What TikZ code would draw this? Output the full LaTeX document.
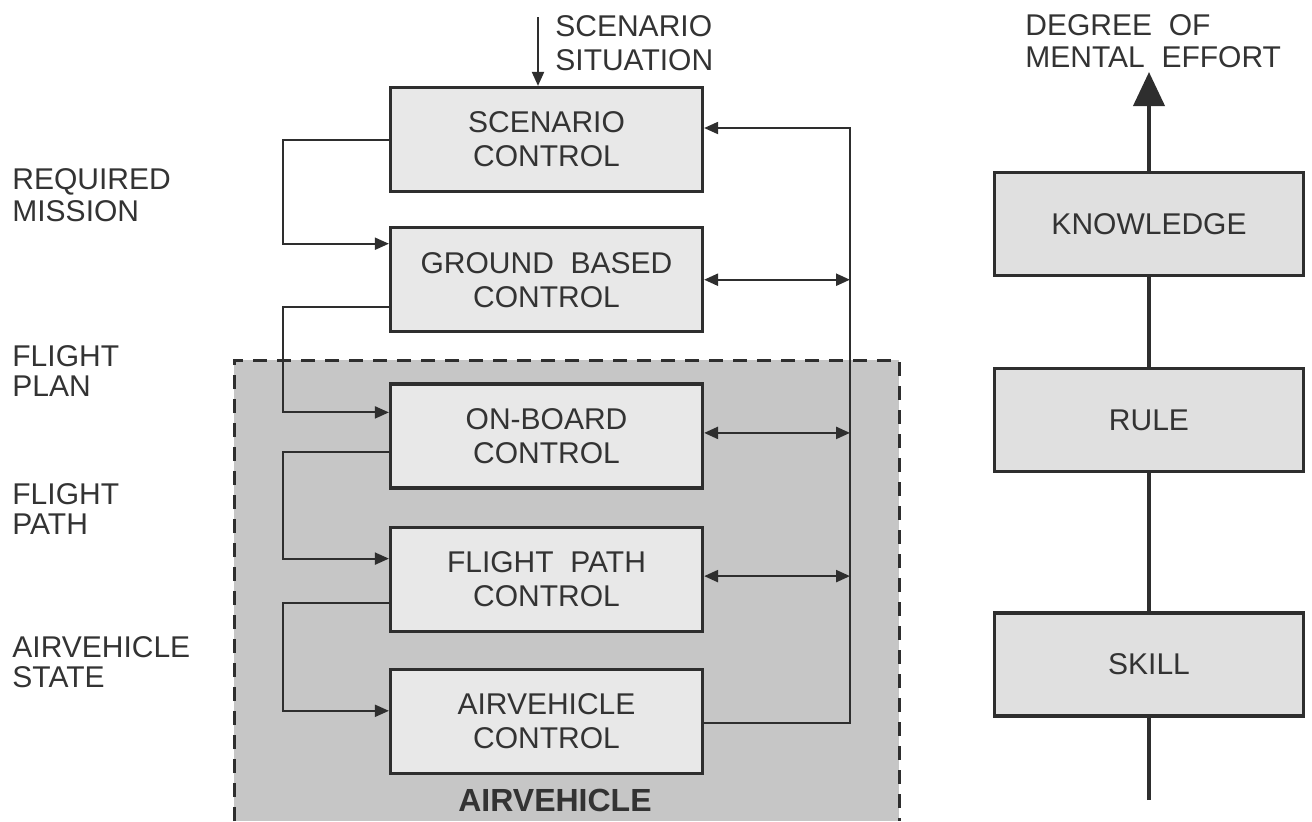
\documentclass[tikz,border=0pt]{standalone}
\usepackage{fontspec}
\setmainfont{Liberation Sans}
\usepackage{tikz}
\usetikzlibrary{arrows.meta, positioning, backgrounds}
\definecolor{inkgray}{HTML}{2E2E2E}
\definecolor{textgray}{HTML}{333333}
\definecolor{boxfill}{HTML}{E8E8E8}
\definecolor{levelfill}{HTML}{E0E0E0}
\definecolor{zonefill}{HTML}{C6C6C6}
\tikzset{
  % Control loop boxes
  ctrlbox/.style={
    rectangle, minimum width=156pt, minimum height=52pt,
    draw=inkgray, fill=boxfill, text=textgray, line width=1.6pt,
    font=\fontsize{15}{17}\selectfont, align=center, inner sep=0pt,
  },
  % Effort level boxes
  levelbox/.style={
    ctrlbox, fill=levelfill, minimum width=154.5pt, minimum height=51.5pt,
  },
  % Side labels (anchored at the baseline of the last line)
  sidelabel/.style={
    font=\fontsize{15}{16}\selectfont, align=left, anchor=base west,
    inner sep=0pt, text=textgray,
  },
  % Arrows
  myarrow/.style={-{Triangle[length=7pt, width=6pt]}, line width=1pt, draw=inkgray},
  biarrow/.style={{Triangle[length=7pt, width=6pt]}-{Triangle[length=7pt, width=6pt]},
    line width=1.2pt, draw=inkgray},
  effortarrow/.style={-{Triangle[length=17pt, width=15.5pt]}, line width=2pt, draw=inkgray},
  axisline/.style={line width=2pt, draw=inkgray},
}

\begin{document}
\begin{tikzpicture}[x=0.5pt, y=-0.5pt]
  \useasboundingbox (0,0) rectangle (1312,821);

  % Airvehicle zone
  \fill[zonefill] (234,360) rectangle (899,821);
  \draw[inkgray, line width=1.5pt, dash pattern=on 7pt off 5pt]
    (234,821) -- (234,360) -- (899,360) -- (899,821);
  \node[font=\fontsize{16}{18}\selectfont\bfseries, text=textgray] (zonelabel) at (555,800) {AIRVEHICLE};

  % Control hierarchy
  \node[ctrlbox] (scen) at (546.5,139.5) {SCENARIO\\CONTROL};
  \node[ctrlbox, below=16.5pt of scen] (ground) {GROUND\ \ BASED\\CONTROL};
  \node[ctrlbox, below=24.5pt of ground] (onboard) {ON-BOARD\\CONTROL};
  \node[ctrlbox, below=18pt of onboard] (fpath) {FLIGHT\ \ PATH\\CONTROL};
  \node[ctrlbox, below=17.5pt of fpath] (avctrl) {AIRVEHICLE\\CONTROL};

  % Inputs
  \node[sidelabel] (situation) at (555,70) {SCENARIO\\[1pt]SITUATION};
  \coordinate (sitin) at (538,17);
  \draw[myarrow] (sitin) -- (sitin |- scen.north);

  % Left labels
  \node[sidelabel] (mission) at (12,221) {REQUIRED\\MISSION};
  \node[sidelabel] (plan) at (12,396) {FLIGHT\\[-1pt]PLAN};
  \node[sidelabel] (path) at (12,534) {FLIGHT\\[-1pt]PATH};
  \node[sidelabel] (state) at (12,687) {AIRVEHICLE\\[-1pt]STATE};

  % Downward links
  \draw[myarrow] (scen.west) -- ++(-106,0) |- ([yshift=18pt]ground.west);
  \draw[myarrow] ([yshift=-13.75pt]ground.west) -- ++(-106,0) |- ([yshift=11.75pt]onboard.west);
  \draw[myarrow] ([yshift=-8.25pt]onboard.west) -- ++(-106,0) |- ([yshift=10.25pt]fpath.west);
  \draw[myarrow] ([yshift=-11.75pt]fpath.west) -- ++(-106,0) |- ([yshift=5.25pt]avctrl.west);

  % Feedback bus
  \coordinate (bustop) at (850,128);
  \draw[myarrow] ([yshift=-1pt]avctrl.east) -| (bustop) -- (bustop -| scen.east);
  \draw[biarrow] (ground.east) -- (ground.east -| bustop);
  \draw[biarrow] ([yshift=1.5pt]onboard.east) -- ([yshift=1.5pt]onboard.east -| bustop);
  \draw[biarrow] ([yshift=1.5pt]fpath.east) -- ([yshift=1.5pt]fpath.east -| bustop);

  % Mental effort scale
  \node[levelbox] (know) at (1149,224) {KNOWLEDGE};
  \node[levelbox, below=45pt of know] (rule) {RULE};
  \node[levelbox, below=69pt of rule] (skill) {SKILL};
  \node[sidelabel] (effort) at (1025,67) {DEGREE\ \ OF\\MENTAL\ \ EFFORT};
  \coordinate (axisbot) at (1149,800);
  \coordinate (axistop) at (1149,72);
  \draw[axisline] (axisbot) -- (skill.south);
  \draw[axisline] (skill.north) -- (rule.south);
  \draw[axisline] (rule.north) -- (know.south);
  \draw[effortarrow] (know.north) -- (axistop);
\end{tikzpicture}
\end{document}
